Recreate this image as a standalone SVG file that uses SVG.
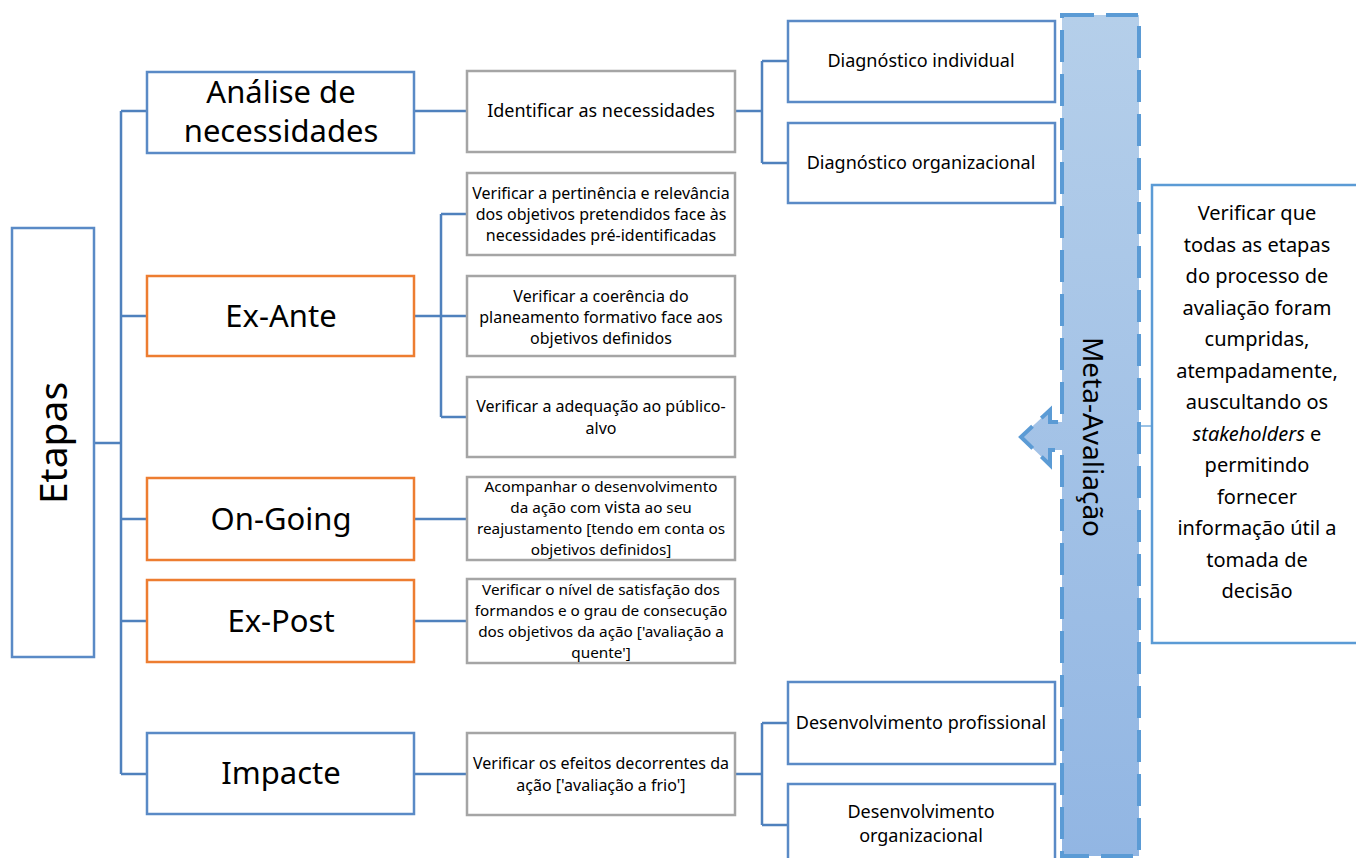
<svg xmlns="http://www.w3.org/2000/svg" width="1356" height="858" viewBox="0 0 1356 858">
<defs>
<linearGradient id="barFill" x1="0" y1="0" x2="0" y2="1">
<stop offset="0" stop-color="#b5cfea"/>
<stop offset="1" stop-color="#92b6e3"/>
</linearGradient>
<style>
.t{font-family:"Noto Sans","Liberation Sans",sans-serif;fill:#000;text-anchor:middle}
.l1{font-size:31px}
.l2{font-size:16px}
.l2s{font-size:15.3px}
.l3{font-size:18px}
.blue{fill:#fff;stroke:#5a8ac6;stroke-width:2.5}
.orange{fill:#fff;stroke:#ed7d31;stroke-width:2.5}
.gray{fill:#fff;stroke:#a5a5a5;stroke-width:2.5}
.conn{fill:none;stroke:#4f81bd;stroke-width:2.5}
.meta{fill:url(#barFill);stroke:#5b9bd5;stroke-width:4;stroke-dasharray:32 12}
</style>
</defs>
<rect width="1356" height="858" fill="#fff"/>

<g id="connectors">
<path class="conn" d="M94 443H121M121 111V774M121 111H147M121 316H147M121 519H147M121 621H147M121 774H147"/>
<path class="conn" d="M414 111H467M414 316H441M441 214V417M441 214H467M441 316H467M441 417H467M414 519H467M414 621H467M414 774H467"/>
<path class="conn" d="M735 111H762M762 61V163M762 61H788M762 163H788"/>
<path class="conn" d="M735 774H762M762 723V825M762 723H788M762 825H788"/>
<path d="M1139 426H1156" stroke="#5b9bd5" stroke-width="1.2" fill="none"/>
</g>

<g id="etapas">
<rect class="blue" x="12" y="228" width="82" height="429"/>
<text class="t" style="font-size:39px" transform="translate(67,443) rotate(-90)">Etapas</text>
</g>

<g id="analise">
<rect class="blue" x="147" y="72" width="267" height="81"/>
<text class="t l1" x="281" y="103">Análise de</text>
<text class="t l1" x="281" y="142">necessidades</text>
</g>
<g id="exante">
<rect class="orange" x="147" y="276" width="267" height="80"/>
<text class="t l1" x="281" y="327">Ex-Ante</text>
</g>
<g id="ongoing">
<rect class="orange" x="147" y="478" width="267" height="82"/>
<text class="t l1" x="281" y="530">On-Going</text>
</g>
<g id="expost">
<rect class="orange" x="147" y="580" width="267" height="82"/>
<text class="t l1" x="281" y="632">Ex-Post</text>
</g>
<g id="impacte">
<rect class="blue" x="147" y="733" width="267" height="81"/>
<text class="t l1" x="281" y="784">Impacte</text>
</g>

<g id="identificar">
<rect class="gray" x="467" y="71" width="268" height="81"/>
<text class="t l3" x="601" y="117">Identificar as necessidades</text>
</g>
<g id="pertinencia">
<rect class="gray" x="467" y="173" width="268" height="82"/>
<text class="t l2" x="601" y="199">Verificar a pertinência e relevância</text>
<text class="t l2" x="601" y="220">dos objetivos pretendidos face às</text>
<text class="t l2" x="601" y="241">necessidades pré-identificadas</text>
</g>
<g id="coerencia">
<rect class="gray" x="467" y="276" width="268" height="80"/>
<text class="t l2" x="601" y="302">Verificar a coerência do</text>
<text class="t l2" x="601" y="323">planeamento formativo face aos</text>
<text class="t l2" x="601" y="344">objetivos definidos</text>
</g>
<g id="adequacao">
<rect class="gray" x="467" y="377" width="268" height="80"/>
<text class="t l2" x="601" y="412">Verificar a adequação ao público-</text>
<text class="t l2" x="601" y="434">alvo</text>
</g>
<g id="acompanhar">
<rect class="gray" x="467" y="477" width="268" height="83"/>
<text class="t l2s" x="601" y="492">Acompanhar o desenvolvimento</text>
<text class="t l2s" x="601" y="513">da ação com <tspan style="font-size:16.5px">vista</tspan> ao seu</text>
<text class="t l2s" x="601" y="534">reajustamento [tendo em conta os</text>
<text class="t l2s" x="601" y="555">objetivos definidos]</text>
</g>
<g id="satisfacao">
<rect class="gray" x="467" y="579" width="268" height="84"/>
<text class="t l2s" x="601" y="595">Verificar o nível de satisfação dos</text>
<text class="t l2s" x="601" y="616">formandos e o grau de consecução</text>
<text class="t l2s" x="601" y="637">dos objetivos da ação ['avaliação a</text>
<text class="t l2s" x="601" y="658">quente']</text>
</g>
<g id="efeitos">
<rect class="gray" x="467" y="733" width="268" height="82"/>
<text class="t l2" x="601" y="769">Verificar os efeitos decorrentes da</text>
<text class="t l2" x="601" y="791">ação ['avaliação a frio']</text>
</g>

<g id="diag-ind">
<rect class="blue" x="788" y="21" width="267" height="81"/>
<text class="t l3" x="921" y="67">Diagnóstico individual</text>
</g>
<g id="diag-org">
<rect class="blue" x="788" y="123" width="267" height="80"/>
<text class="t l3" x="921" y="169">Diagnóstico organizacional</text>
</g>
<g id="desenv-prof">
<rect class="blue" x="788" y="682" width="267" height="82"/>
<text class="t l3" x="921" y="729">Desenvolvimento profissional</text>
</g>
<g id="desenv-org">
<rect class="blue" x="788" y="784" width="267" height="82"/>
<text class="t l3" x="921" y="818">Desenvolvimento</text>
<text class="t l3" x="921" y="842">organizacional</text>
</g>

<g id="meta-avaliacao">
<path class="meta" d="M1062 15H1139V856H1062V450H1050V465L1021 437L1050 410V422H1062Z"/>
<text class="t" style="font-size:28px" transform="translate(1083,437) rotate(90)">Meta-Avaliação</text>
</g>

<g id="verificar-box">
<rect x="1152" y="185" width="220" height="458" fill="#fff" stroke="#5b9bd5" stroke-width="2.5"/>
<g class="t" style="font-size:20px">
<text x="1257" y="220">Verificar que</text>
<text x="1257" y="251.5">todas as etapas</text>
<text x="1257" y="283">do processo de</text>
<text x="1257" y="314.5">avaliação foram</text>
<text x="1257" y="346">cumpridas,</text>
<text x="1257" y="377.5">atempadamente,</text>
<text x="1257" y="409">auscultando os</text>
<text x="1257" y="440.5"><tspan font-style="italic">stakeholders</tspan> e</text>
<text x="1257" y="472">permitindo</text>
<text x="1257" y="503.5">fornecer</text>
<text x="1257" y="535">informação útil a</text>
<text x="1257" y="566.5">tomada de</text>
<text x="1257" y="598">decisão</text>
</g>
</g>
</svg>
